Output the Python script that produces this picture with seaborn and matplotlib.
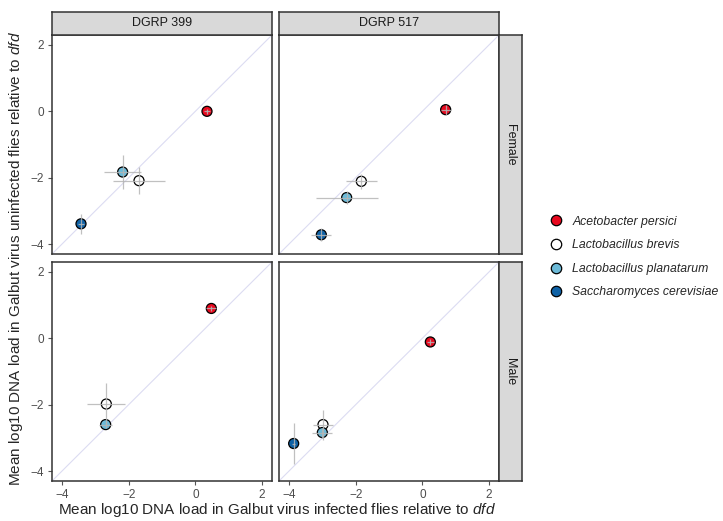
import numpy as np
import pandas as pd
import matplotlib
matplotlib.use("Agg")
import matplotlib.pyplot as plt
from matplotlib.lines import Line2D
import seaborn as sns

# Data
species = ["Acetobacter persici", "Lactobacillus brevis",
           "Lactobacillus planatarum", "Saccharomyces cerevisiae"]
colors = ["#E8081E", "#FFFFFF", "#6CBAD8", "#0F62A6"]

lines = ["DGRP 399", "DGRP 517"]
sexes = ["Female", "Male"]

# one list per panel, species order as above
x_399_f = [0.35, -1.69, -2.18, -3.43]
y_399_f = [0.00, -2.09, -1.83, -3.39]
xe_399_f = [0.10, 0.77, 0.55, 0.08]
ye_399_f = [0.08, 0.40, 0.50, 0.30]

x_517_f = [0.70, -1.83, -2.27, -3.03]
y_517_f = [0.05, -2.11, -2.60, -3.72]
xe_517_f = [0.15, 0.47, 0.93, 0.30]
ye_517_f = [0.15, 0.22, 0.20, 0.20]

x_399_m = [0.48, -2.67, -2.69]
y_399_m = [0.90, -1.98, -2.60]
xe_399_m = [0.15, 0.57, 0.20]
ye_399_m = [0.08, 0.62, 0.10]

x_517_m = [0.24, -2.98, -3.00, -3.86]
y_517_m = [-0.11, -2.60, -2.84, -3.17]
xe_517_m = [0.10, 0.30, 0.30, 0.05]
ye_517_m = [0.10, 0.45, 0.15, 0.63]

panels = {
    ("DGRP 399", "Female"): (x_399_f, y_399_f, xe_399_f, ye_399_f),
    ("DGRP 517", "Female"): (x_517_f, y_517_f, xe_517_f, ye_517_f),
    ("DGRP 399", "Male"): (x_399_m, y_399_m, xe_399_m, ye_399_m),
    ("DGRP 517", "Male"): (x_517_m, y_517_m, xe_517_m, ye_517_m),
}

rows = []
for (line, sex), (xs, ys, xes, yes) in panels.items():
    for i in range(len(xs)):
        rows.append(dict(line=line, sex=sex, species=species[i],
                         x=xs[i], y=ys[i], xerr=xes[i], yerr=yes[i]))
df = pd.DataFrame(rows)

sns.set_theme(style="white")
plt.rcParams["font.family"] = ["Liberation Sans", "DejaVu Sans"]
plt.rcParams["mathtext.fontset"] = "custom"
plt.rcParams["mathtext.it"] = "Liberation Sans:italic"
plt.rcParams["mathtext.rm"] = "Liberation Sans"

W, H = 723, 521
fig = plt.figure(figsize=(W / 100, H / 100), dpi=100)

def fax(x0, y0, x1, y1):
    # pixel box -> figure axes
    return fig.add_axes([x0 / W, 1 - y1 / H, (x1 - x0) / W, (y1 - y0) / H])

col_x = [(52, 272), (279, 499)]
row_y = [(35, 254), (262, 481)]
lim = (-4.3, 2.3)
palette = dict(zip(species, colors))
edge = "#333333"
strip_fc = "#D9D9D9"

for ri, sex in enumerate(sexes):
    for ci, line in enumerate(lines):
        (x0, x1), (y0, y1) = col_x[ci], row_y[ri]
        ax = fax(x0, y0, x1, y1)
        sub = df[(df.line == line) & (df.sex == sex)]
        ax.plot(lim, lim, color="#DCDCF2", lw=0.8, zorder=1)
        sns.scatterplot(data=sub, x="x", y="y", hue="species", palette=palette,
                        hue_order=species, s=52, edgecolor="black",
                        linewidth=0.9, legend=False, ax=ax, zorder=3)
        ax.errorbar(sub.x, sub.y, xerr=sub.xerr, yerr=sub.yerr, fmt="none",
                    ecolor="#B5B5B5", elinewidth=0.9, alpha=0.85, zorder=4)
        ax.set_xlim(lim)
        ax.set_ylim(lim)
        ax.set_xticks([-4, -2, 0, 2])
        ax.set_yticks([-4, -2, 0, 2])
        ax.set_xlabel("")
        ax.set_ylabel("")
        ax.tick_params(axis="both", which="both", length=3, width=0.8,
                       color="#555555", labelcolor="#4D4D4D", labelsize=8.5,
                       pad=3, bottom=(ri == 1), left=(ci == 0),
                       labelbottom=(ri == 1), labelleft=(ci == 0))
        for sp in ax.spines.values():
            sp.set_edgecolor(edge)
            sp.set_linewidth(1.1)

        if ri == 0:
            st = fax(x0, 12, x1, 35)
            st.set_facecolor(strip_fc)
            st.set_xticks([])
            st.set_yticks([])
            for sp in st.spines.values():
                sp.set_edgecolor(edge)
                sp.set_linewidth(1.1)
            st.text(0.5, 0.5, line, ha="center", va="center", fontsize=9,
                    color="#1A1A1A", transform=st.transAxes)
        if ci == 1:
            st = fax(499, y0, 522, y1)
            st.set_facecolor(strip_fc)
            st.set_xticks([])
            st.set_yticks([])
            for sp in st.spines.values():
                sp.set_edgecolor(edge)
                sp.set_linewidth(1.1)
            st.text(0.5, 0.5, sex, ha="center", va="center", fontsize=9,
                    rotation=-90, color="#1A1A1A", transform=st.transAxes)

fig.text(277 / W, 1 - 510 / H,
         r"Mean log10 DNA load in Galbut virus infected flies relative to $\mathit{dfd}$",
         ha="center", va="center", fontsize=11)
fig.text(16 / W, 1 - 258 / H,
         r"Mean log10 DNA load in Galbut virus uninfected flies relative to $\mathit{dfd}$",
         ha="center", va="center", rotation=90, fontsize=11)

handles = [Line2D([], [], marker="o", ls="", markersize=7.5,
                  markerfacecolor=c, markeredgecolor="black",
                  markeredgewidth=0.9) for c in colors]
leg = fig.legend(handles, species, loc="center left",
                 bbox_to_anchor=(538 / W, 1 - 257 / H), frameon=False,
                 prop=dict(style="italic", size=8.8), handletextpad=0.7,
                 labelspacing=0.95, handlelength=1.2)

fig.savefig("out.png", dpi=100)
